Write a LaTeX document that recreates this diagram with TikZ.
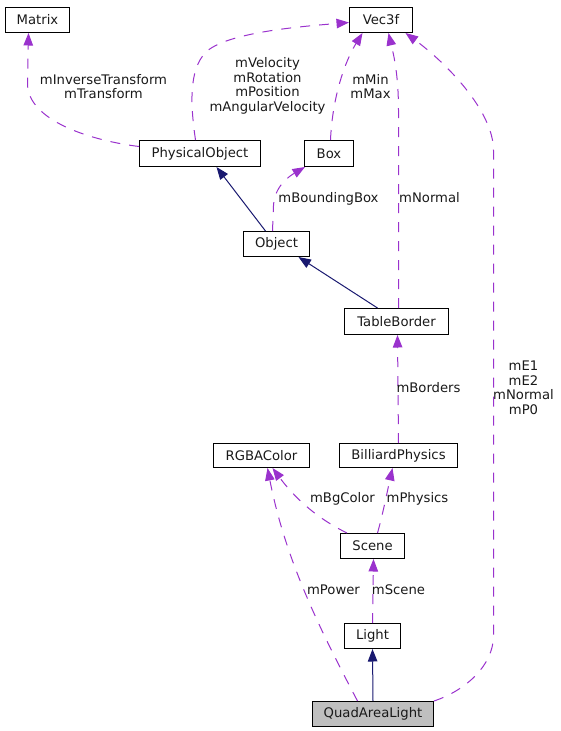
\documentclass[tikz,border=0pt]{standalone}
\usepackage{fontspec}
\setmainfont{DejaVu Sans}
\usetikzlibrary{arrows.meta}
\definecolor{dxpurple}{HTML}{9A32CD}
\definecolor{dxnavy}{HTML}{191970}
\tikzset{
  cls/.style={draw=black, line width=1pt, minimum height=25pt, inner sep=0pt,
    font=\fontsize{13.2}{14.5}\selectfont, text=black!90},
  lbl/.style={inner sep=0pt, align=center, font=\fontsize{13.2}{14.5}\selectfont, text=black!90},
  use/.style={draw=dxpurple, line width=1pt, dash pattern=on 10pt off 9pt,
    -{Triangle[length=12.5pt,width=9.5pt,fill=dxpurple,color=dxpurple]}},
  inh/.style={draw=dxnavy, line width=1pt,
    -{Triangle[length=12.5pt,width=9.5pt,fill=dxnavy,color=dxnavy]}},
}
\begin{document}
\begin{tikzpicture}[x=1pt,y=-1pt]
\useasboundingbox (0,0) rectangle (561,731);
\begin{scope}[xshift=0.5pt,yshift=-0.5pt]
% classes
\node[cls, minimum width=64pt] (matrix) at (37,19.5) {Matrix};
\node[cls, minimum width=63pt] (vec) at (380.5,19.5) {Vec3f};
\node[cls, minimum width=121pt, minimum height=26pt] (po) at (199.5,153) {PhysicalObject};
\node[cls, minimum width=49pt, minimum height=26pt] (box) at (328.5,153) {Box};
\node[cls, minimum width=66pt] (obj) at (276,243.5) {Object};
\node[cls, minimum width=104pt, minimum height=26pt] (tb) at (396,321) {TableBorder};
\node[cls, minimum width=96pt, minimum height=24pt] (rgba) at (261,455) {RGBAColor};
\node[cls, minimum width=118pt, minimum height=24pt] (bp) at (398,455) {BilliardPhysics};
\node[cls, minimum width=64pt] (scene) at (372,545.5) {Scene};
\node[cls, minimum width=56pt] (light) at (372,635.5) {Light};
\node[cls, minimum width=121pt, fill=black!25] (qal) at (372.5,713.5) {QuadAreaLight};
% connectors
\draw[use] ([yshift=7pt]po.west) .. controls (90,140) and (27,120) .. (27,83) -- ([xshift=-9pt]matrix.south);
\draw[use] ([xshift=-4.5pt]po.north) .. controls (190,105) and (188,70) .. (205,52) .. controls (225,32) and (300,26) .. ([yshift=-2.5pt]vec.west);
\draw[use] ([xshift=1.5pt]box.north) .. controls (332,95) and (345,60) .. ([xshift=-18.5pt]vec.south);
\draw[use] ([xshift=2pt]tb.north) -- (398,110) .. controls (398,70) and (392,50) .. ([xshift=7.5pt]vec.south);
\draw[use] (qal.north east) .. controls (465,690) and (493,665) .. (493,635) -- (493,150) .. controls (493,110) and (445,62) .. ([xshift=24.5pt]vec.south);
\draw[inh] ([xshift=-11pt]obj.north) -- ([xshift=16.5pt]po.south);
\draw[use] ([xshift=-4pt]obj.north) -- (273,205) .. controls (274,185) and (290,175) .. ([xshift=1pt]box.south west);
\draw[inh] ([xshift=-19pt]tb.north) -- ([xshift=22pt]obj.south);
\draw[use] (bp.north) -- ([xshift=1pt]tb.south);
\draw[use] ([xshift=7pt]scene.north west) .. controls (325,522) and (300,505) .. ([xshift=11pt]rgba.south);
\draw[use] ([xshift=5pt]scene.north) .. controls (382,515) and (387,490) .. ([xshift=-6pt]bp.south);
\draw[use] (light.north) -- ([xshift=1pt]scene.south);
\draw[inh] (qal.north) -- (light.south);
\draw[use] ([xshift=-15.5pt]qal.north) .. controls (320,630) and (285,560) .. ([xshift=6pt]rgba.south);
% labels
\node[lbl] (l1) at (103,86) {mInverseTransform\\mTransform};
\node[lbl] (l2) at (267,85.5) {mVelocity\\mRotation\\mPosition\\mAngularVelocity};
\node[lbl] (l3) at (370,86) {mMin\\mMax};
\node[lbl] (l4) at (328,198) {mBoundingBox};
\node[lbl] (l5) at (429,197) {mNormal};
\node[lbl] (l6) at (428,387) {mBorders};
\node[lbl] (l7) at (523,387.5) {mE1\\mE2\\mNormal\\mP0};
\node[lbl] (l8) at (342,498) {mBgColor};
\node[lbl] (l9) at (417,498) {mPhysics};
\node[lbl] (l10) at (333,589) {mPower};
\node[lbl] (l11) at (398,589) {mScene};
\end{scope}
\end{tikzpicture}
\end{document}
